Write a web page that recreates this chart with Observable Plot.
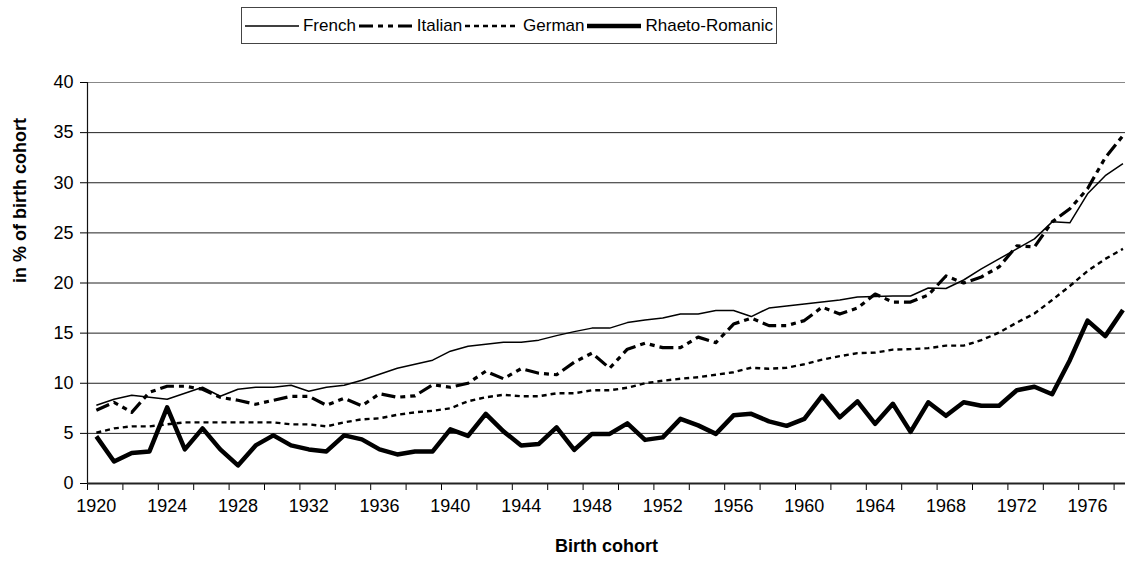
<!DOCTYPE html>
<html>
<head>
<meta charset="utf-8">
<script src="https://cdn.jsdelivr.net/npm/d3@7"></script>
<script src="https://cdn.jsdelivr.net/npm/@observablehq/plot@0.6"></script>
<style>
  body { margin: 0; background: #fff; }
  #wrap { position: relative; width: 1125px; height: 572px; font-family: "Liberation Sans", Arial, sans-serif; color: #000; }
  #legend { position: absolute; left: 241px; top: 7px; width: 534px; height: 35px; border: 1px solid #444;
            display: flex; align-items: center; justify-content: space-evenly; font-size: 17px; background: #fff; }
  .item { display: flex; align-items: center; gap: 4px; white-space: nowrap; }
  .item svg { display: block; }
</style>
</head>
<body>
<div id="wrap"><div id="legend"></div></div>
<script>
// ---- data ----
const firstYear = 1920, lastYear = 1978;
const years = d3.range(firstYear, lastYear + 1);
const seriesNames = ["French", "Italian", "German", "Rhaeto-Romanic"];

const french = [7.8, 8.4, 8.8, 8.6, 8.4, 9.0, 9.6, 8.7, 9.4, 9.6,
  9.6, 9.8, 9.2, 9.6, 9.8, 10.3, 10.9, 11.5, 11.9, 12.3,
  13.2, 13.7, 13.9, 14.1, 14.1, 14.3, 14.75, 15.15, 15.5, 15.5,
  16.05, 16.3, 16.5, 16.9, 16.9, 17.25, 17.25, 16.65, 17.5, 17.7,
  17.9, 18.1, 18.3, 18.6, 18.65, 18.7, 18.7, 19.5, 19.45, 20.3,
  21.4, 22.4, 23.4, 24.4, 26.1, 26.0, 28.9, 30.7, 31.9];
const italian = [7.3, 8.1, 7.1, 9.1, 9.7, 9.7, 9.4, 8.6, 8.3, 7.9,
  8.3, 8.7, 8.7, 7.8, 8.5, 7.75, 8.95, 8.6, 8.75, 9.85,
  9.6, 10.0, 11.2, 10.45, 11.45, 11.0, 10.85, 12.1, 13.0, 11.5,
  13.4, 14.0, 13.55, 13.55, 14.6, 14.05, 15.9, 16.5, 15.75, 15.75,
  16.25, 17.6, 16.9, 17.5, 18.9, 18.1, 18.1, 18.8, 20.7, 20.0,
  20.6, 21.6, 23.7, 23.6, 26.1, 27.4, 29.4, 32.5, 34.7];
const german = [5.07, 5.5, 5.7, 5.7, 5.9, 6.1, 6.1, 6.1, 6.1, 6.1,
  6.1, 5.9, 5.9, 5.7, 6.1, 6.4, 6.5, 6.85, 7.1, 7.25,
  7.5, 8.2, 8.6, 8.85, 8.7, 8.7, 9.0, 9.0, 9.3, 9.3,
  9.55, 10.0, 10.25, 10.45, 10.6, 10.85, 11.1, 11.55, 11.45, 11.55,
  11.9, 12.35, 12.7, 13.0, 13.05, 13.35, 13.4, 13.5, 13.75, 13.75,
  14.3, 15.05, 16.05, 16.95, 18.3, 19.7, 21.2, 22.4, 23.4];
const rhaeto = [4.7, 2.2, 3.05, 3.2, 7.6, 3.4, 5.5, 3.4, 1.8, 3.8,
  4.8, 3.8, 3.4, 3.2, 4.8, 4.4, 3.4, 2.9, 3.2, 3.2,
  5.4, 4.75, 6.95, 5.2, 3.8, 3.95, 5.6, 3.35, 4.95, 4.95,
  6.0, 4.35, 4.6, 6.45, 5.8, 4.95, 6.8, 6.95, 6.2, 5.75,
  6.45, 8.75, 6.6, 8.2, 5.95, 7.95, 5.15, 8.1, 6.75, 8.1,
  7.75, 7.75, 9.3, 9.65, 8.9, 12.3, 16.25, 14.7, 17.3];

const yTicks = [0, 5, 10, 15, 20, 25, 30, 35, 40];
const xLabelYears = [1920, 1924, 1928, 1932, 1936, 1940, 1944, 1948, 1952, 1956, 1960, 1964, 1968, 1972, 1976];
const yTitle = "in % of birth cohort";
const xTitle = "Birth cohort";

// ---- styles ----
const lineStyles = [
  { w: 1.5, dash: null },
  { w: 3.2, dash: "14,5,5,5,5,5" },
  { w: 2.4, dash: "5,4" },
  { w: 4.5, dash: null }
];
const allSeries = [french, italian, german, rhaeto];

const rows = [];
seriesNames.forEach((s, i) => allSeries[i].forEach((v, j) => rows.push({ year: years[j], value: v, series: s })));

// category boundaries (Excel-style ticks between categories, every 2 years)
const xDomain = [firstYear - 0.5, lastYear + 0.5];
const boundaryTicks = d3.range(xDomain[0], xDomain[1], 2);

const lineMarks = seriesNames.map((s, i) => Plot.line(rows.filter(r => r.series === s), {
  x: "year", y: "value", stroke: "#000",
  strokeWidth: lineStyles[i].w,
  strokeDasharray: lineStyles[i].dash,
  strokeLinejoin: "round",
  strokeLinecap: "butt"
}));

const chart = Plot.plot({
  width: 1125,
  height: 572,
  marginLeft: 87,
  marginRight: 0,
  marginTop: 82,
  marginBottom: 89,
  style: { fontFamily: "'Liberation Sans', Arial, sans-serif", fontSize: "18px", color: "#000", background: "transparent", overflow: "visible" },
  x: { domain: xDomain, range: [87, 87 + 59 * 17.7] },
  y: { domain: [0, 40] },
  marks: [
    Plot.gridY(yTicks.filter(d => d > 0 && d < 40), { stroke: "#222", strokeOpacity: 1, strokeWidth: 1 }),
    Plot.gridY([40], { stroke: "#888", strokeOpacity: 1, strokeWidth: 1.2 }),
    Plot.axisY({ ticks: yTicks, tickSize: 7, tickPadding: 7, label: null, tickFormat: "d" }),
    Plot.axisX({ ticks: boundaryTicks, tickSize: 7, tickFormat: () => "", label: null }),
    Plot.axisX({ ticks: xLabelYears, tickSize: 0, tickPadding: 16, tickFormat: "d", label: null }),
    Plot.ruleX([xDomain[0]], { stroke: "#111", strokeWidth: 1.2 }),
    ...lineMarks,
    Plot.ruleY([0], { stroke: "#222", strokeWidth: 2 }),
    Plot.text([yTitle], { frameAnchor: "left", dx: -67, rotate: -90, fontWeight: "bold", fontSize: 18, fill: "#000" }),
    Plot.text([xTitle], { frameAnchor: "bottom", dy: 68, fontWeight: "bold", fontSize: 18, fill: "#000" })
  ]
});
document.getElementById("wrap").prepend(chart);

// ---- legend ----
const legend = document.getElementById("legend");
seriesNames.forEach((s, i) => {
  const item = document.createElement("div");
  item.className = "item";
  const st = lineStyles[i];
  item.innerHTML = `<svg width="54" height="10"><line x1="0" x2="54" y1="5" y2="5" stroke="#000" stroke-width="${st.w}" ${st.dash ? `stroke-dasharray="${st.dash}"` : ""}/></svg><span>${s}</span>`;
  legend.appendChild(item);
});
</script>
</body>
</html>
